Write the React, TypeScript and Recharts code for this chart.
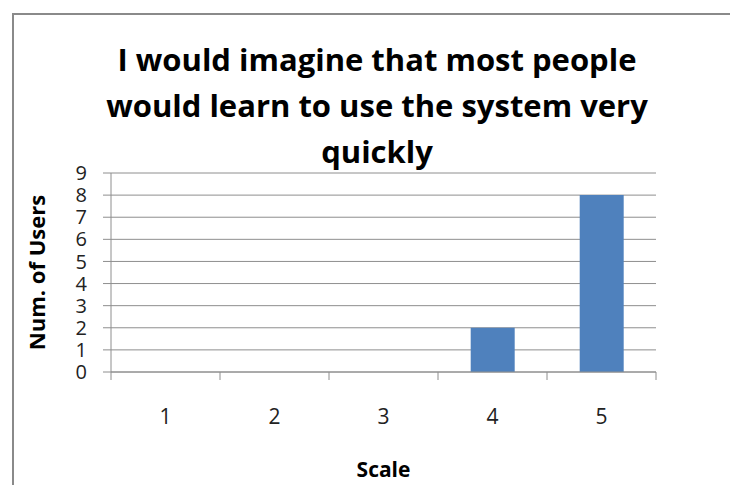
import React from 'react';
import { BarChart, Bar, XAxis, YAxis, CartesianGrid } from 'recharts';

const scaleLabels = ['1', '2', '3', '4', '5'];
const userCounts = [0, 0, 0, 2, 8];
const yTicks = [0, 1, 2, 3, 4, 5, 6, 7, 8, 9];

const chartData = scaleLabels.map((scale, i) => ({ scale, users: userCounts[i] }));

const FONT = '"Open Sans", Lato, sans-serif';
const AXIS_GRAY = '#8e8e8e';
const X_TICK_MARGIN = 37;
const X_TICK_LEN = 8;

// category labels plus Excel-style tick marks on the band edges
const EdgeTick = (props: any) => {
  const { x, y, payload, index, visibleTicksCount } = props;
  const half = payload.offset ?? 0;
  const axisY = y - X_TICK_MARGIN;
  return (
    <g>
      <line x1={x - half} x2={x - half} y1={axisY} y2={axisY + X_TICK_LEN} stroke={AXIS_GRAY} />
      {index === visibleTicksCount - 1 && (
        <line x1={x + half} x2={x + half} y1={axisY} y2={axisY + X_TICK_LEN} stroke={AXIS_GRAY} />
      )}
      <text x={x} y={y} dy="0.71em" textAnchor="middle" fill="#222" fontSize={21} fontFamily={FONT}>
        {payload.value}
      </text>
    </g>
  );
};

export default function App() {
  return (
    <div style={{ position: 'absolute', left: 0, top: 0, width: 730, height: 485, overflow: 'hidden', background: '#fff' }}>
      <div
        style={{
          position: 'absolute',
          left: 12,
          top: 13,
          width: 800,
          height: 600,
          border: '2px solid #8a8a8a',
          boxSizing: 'border-box',
        }}
      />
      <div
        style={{
          position: 'absolute',
          left: 27,
          top: 36,
          width: 700,
          textAlign: 'center',
          fontFamily: FONT,
          fontWeight: 700,
          fontSize: 31,
          lineHeight: '46px',
          color: '#000',
        }}
      >
        I would imagine that most people
        <br />
        would learn to use the system very
        <br />
        quickly
      </div>
      <div style={{ position: 'absolute', left: 0, top: 0 }}>
        <BarChart
          width={730}
          height={485}
          data={chartData}
          margin={{ top: 173, right: 74, left: 0, bottom: 5 }}
          barCategoryGap="30%"
        >
          <CartesianGrid vertical={false} stroke={AXIS_GRAY} />
          <XAxis
            dataKey="scale"
            height={108}
            stroke={AXIS_GRAY}
            tickLine={false}
            tickSize={0}
            tickMargin={X_TICK_MARGIN}
            tick={<EdgeTick />}
            label={{
              value: 'Scale',
              position: 'insideBottom',
              offset: 3,
              style: { fontFamily: FONT, fontWeight: 700, fontSize: 21, fill: '#000' },
            }}
          />
          <YAxis
            width={111}
            domain={[0, 9]}
            ticks={yTicks}
            interval={0}
            stroke={AXIS_GRAY}
            tickSize={8}
            tickMargin={16}
            tick={{ fill: '#222', fontSize: 20, fontFamily: FONT }}
            label={{
              value: 'Num. of Users',
              angle: -90,
              position: 'insideLeft',
              offset: 37,
              style: { textAnchor: 'middle', fontFamily: FONT, fontWeight: 700, fontSize: 22, fill: '#000' },
            }}
          />
          <Bar dataKey="users" fill="#4f81bd" isAnimationActive={false} />
        </BarChart>
      </div>
    </div>
  );
}
